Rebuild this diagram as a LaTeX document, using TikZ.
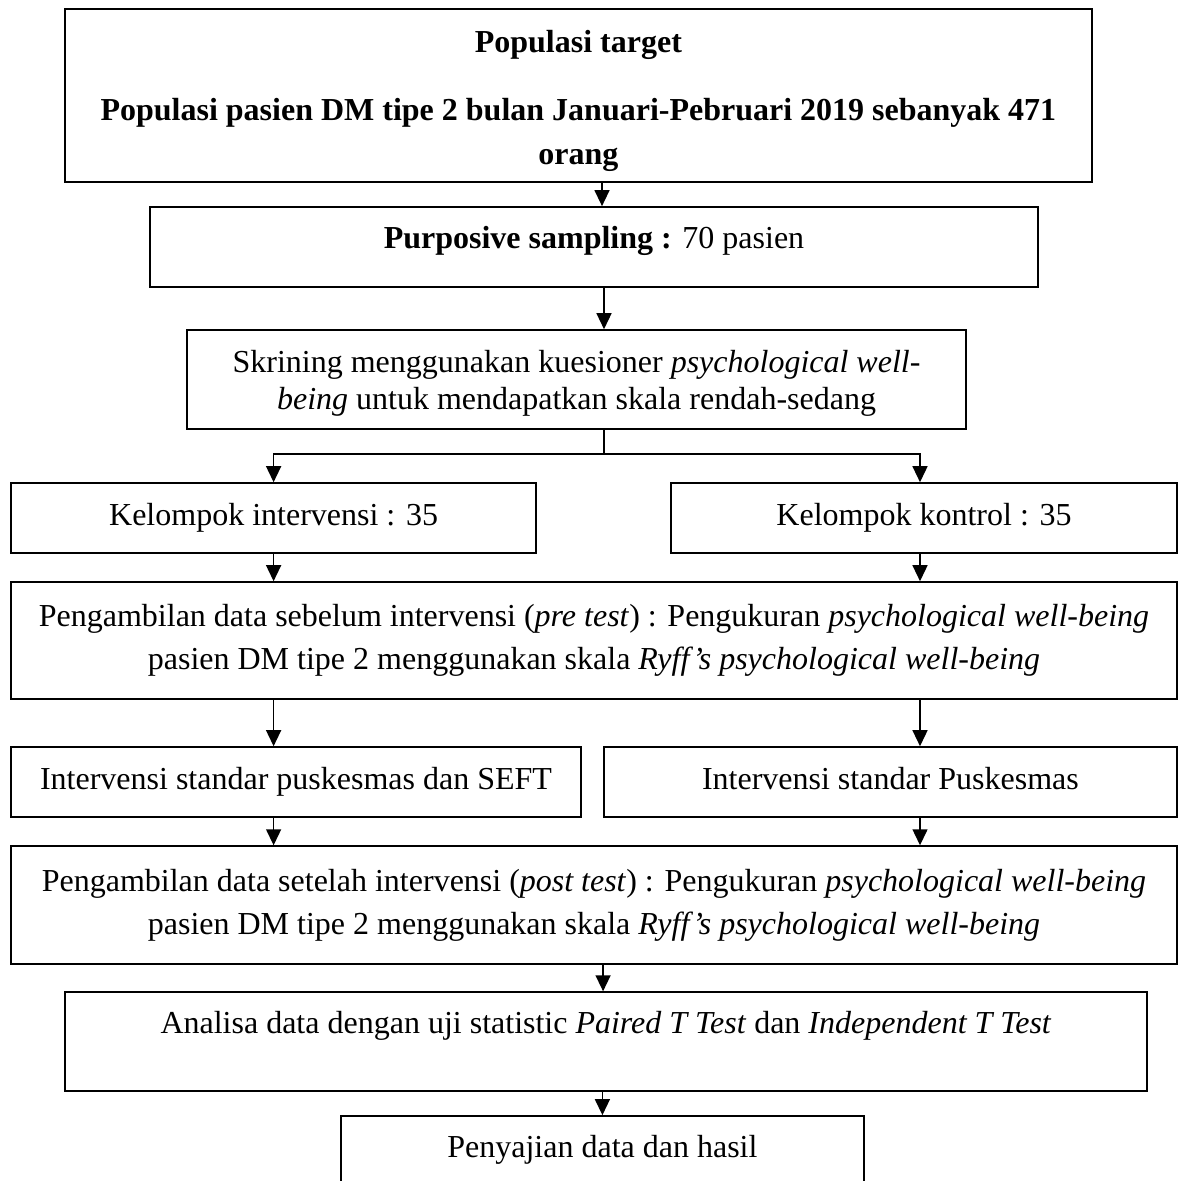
\documentclass[tikz,border=0pt]{standalone}
\usepackage{fontspec}
\setmainfont{Liberation Serif}
\usetikzlibrary{arrows.meta, positioning, calc}

\tikzset{
  flowbox/.style={draw=black, line width=0.6pt, inner sep=0pt, align=center, font=\fontsize{12}{13.8}\selectfont},
  flowarrow/.style={line width=0.6pt, -{Triangle[width=5.6pt, length=6pt]}}
}

\begin{document}
\begin{tikzpicture}[x=1pt, y=1pt]
    \useasboundingbox (0,0) rectangle (443.25,-442.5);
    \clip (0,0) rectangle (443.25,-442.5);

    \node[flowbox, minimum width=385.1pt, minimum height=64.9pt, font=\bfseries\fontsize{12}{16.5}\selectfont] (target) at (216.9,-35.8) {\rule{0pt}{12.7pt}Populasi target\\[9pt] Populasi pasien DM tipe 2 bulan Januari-Pebruari 2019 sebanyak 471\\ orang};
    \node[flowbox, minimum width=333pt, text height=15.4pt, text depth=14.6pt] (sampling) at (222.75,-92.6) {\textbf{Purposive sampling :} 70 pasien};
    \node[flowbox, minimum width=292.1pt, minimum height=37.1pt] (skrining) at (216.2,-142.3) {\rule{0pt}{11.5pt}Skrining menggunakan kuesioner \textit{psychological well-}\\ \textit{being} untuk mendapatkan skala rendah-sedang};

    \node[flowbox, minimum width=196.9pt, minimum height=26.25pt] (kelint) at (102.6,-194.25) {Kelompok intervensi : 35};
    \node[flowbox, minimum width=189.75pt, minimum height=26.25pt] (kelkon) at (346.5,-194.25) {Kelompok kontrol : 35};

    \node[flowbox, minimum width=437.25pt, minimum height=43.9pt, font=\fontsize{12}{16}\selectfont] (pretest) at (222.75,-240.2) {Pengambilan data sebelum intervensi (\textit{pre test}) : Pengukuran \textit{psychological well-being}\\ pasien DM tipe 2 menggunakan skala \textit{Ryff's psychological well-being}};

    \node[flowbox, minimum width=213.75pt, minimum height=26.25pt] (intsef) at (111,-293.25) {Intervensi standar puskesmas dan SEFT};
    \node[flowbox, minimum width=214.9pt, minimum height=26.25pt] (intstd) at (333.9,-293.25) {Intervensi standar Puskesmas\rule[-2.9pt]{0pt}{0pt}};

    \node[flowbox, minimum width=437.25pt, minimum height=44.25pt, font=\fontsize{12}{16}\selectfont] (posttest) at (222.75,-339.4) {Pengambilan data setelah intervensi (\textit{post test}) : Pengukuran \textit{psychological well-being}\\ pasien DM tipe 2 menggunakan skala \textit{Ryff's psychological well-being}};

    \node[flowbox, minimum width=405.75pt, text height=15.4pt, text depth=21.75pt] (analisa) at (227.25,-390.6) {Analisa data dengan uji statistic \textit{Paired T Test} dan \textit{Independent T Test}};
    \node[flowbox, minimum width=196.1pt, text height=15.4pt, text depth=14.25pt] (penyajian) at (225.9,-433.3) {Penyajian data dan hasil};

    \draw[flowarrow] ([xshift=8.85pt]target.south) -- ([xshift=8.85pt]target.south |- sampling.north);
    \draw[flowarrow] ([xshift=3.75pt]sampling.south) -- ([xshift=3.75pt]sampling.south |- skrining.north);
    \coordinate (split) at ([xshift=10.3pt, yshift=-9pt]skrining.south);
    \draw[line width=0.6pt] (split |- skrining.south) -- (split);
    \draw[flowarrow] (split) -| (kelint.north);
    \draw[flowarrow] (split) -| ([xshift=-1.5pt]kelkon.north);
    \draw[flowarrow] (kelint.south) -- (kelint.south |- pretest.north);
    \draw[flowarrow] ([xshift=-1.5pt]kelkon.south) -- ([xshift=-1.5pt]kelkon.south |- pretest.north);
    \draw[flowarrow] (pretest.south -| kelint.south) -- (kelint.south |- intsef.north);
    \draw[flowarrow] ([xshift=-1.5pt]kelkon.south |- pretest.south) -- ([xshift=-1.5pt]kelkon.south |- intstd.north);
    \draw[flowarrow] (intsef.south -| kelint.south) -- (kelint.south |- posttest.north);
    \draw[flowarrow] ([xshift=-1.5pt]kelkon.south |- intstd.south) -- ([xshift=-1.5pt]kelkon.south |- posttest.north);
    \draw[flowarrow] ([xshift=3.4pt]posttest.south) -- ([xshift=3.4pt]posttest.south |- analisa.north);
    \draw[flowarrow] (analisa.south -| penyajian.north) -- (penyajian.north);
\end{tikzpicture}
\end{document}
